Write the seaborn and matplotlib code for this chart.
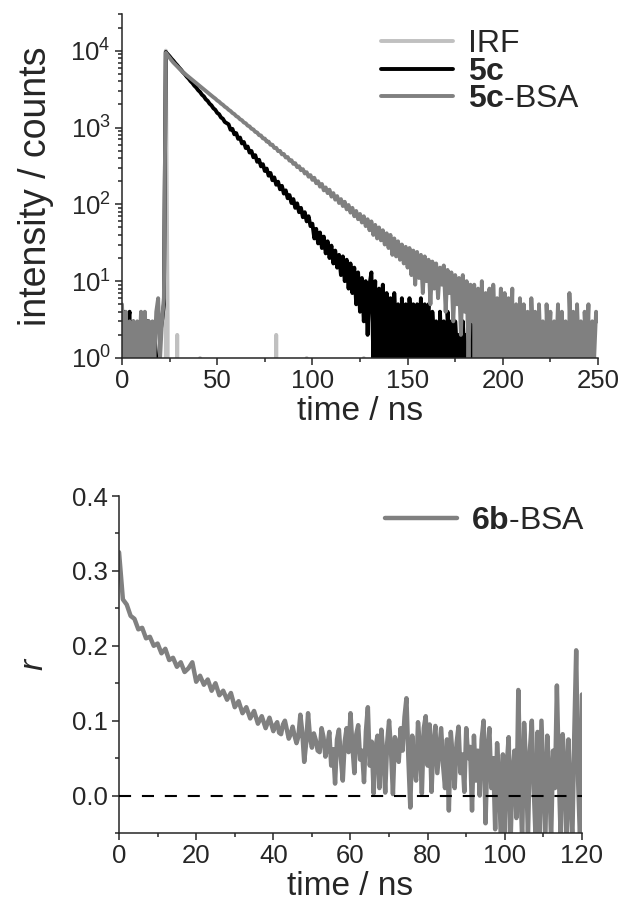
import numpy as np
import matplotlib
matplotlib.use('Agg')
import matplotlib.pyplot as plt
import seaborn as sns
from matplotlib.ticker import MultipleLocator, LogLocator, NullFormatter, FormatStrFormatter

# ---- data ----
# fluorescence decays, 1 ns channels 0..250 ns
decay_time = np.arange(0, 251)

irf_time = [21, 22, 23, 24, 25, 28, 29, 30, 40, 41, 42, 80, 81, 82, 96, 97, 98, 126, 127, 128]
irf_counts = [0, 0, 10000, 3, 0, 0, 2, 0, 0, 1, 0, 0, 2, 0, 0, 1, 0, 0, 1, 0]

c5_counts = (
    [2, 4, 1, 3, 4, 0, 3, 1, 0, 2, 1, 2, 0, 3, 3, 1, 0, 2, 1, 0, 2, 3, 5]
    + [9600, 9000, 8450, 7860, 7390, 6870, 6460, 6010, 5650, 5250, 4950, 4590, 4330, 4010,
       3790, 3500, 3310, 3060, 2900, 2670, 2540, 2330, 2220, 2040, 1940, 1780, 1700, 1550]
    + [1490, 1350, 1300, 1180, 1140]
    + [1100, 935, 960, 815, 845, 712, 740, 620, 648, 540, 566, 472, 495, 410, 436, 358,
       380, 312, 333, 272, 292, 236, 256, 206, 224, 180, 197, 157, 174, 138]
    + [152, 120, 132, 104, 117, 90, 103, 79, 90, 68, 79, 60, 70, 52, 56, 36, 48, 31, 43,
       27, 38, 23, 33, 20, 29, 17, 25, 15, 22, 12, 21, 10, 19, 8, 17, 7, 15, 5, 13, 4, 11,
       3, 10, 2, 9]
    + [13, 1, 10, 0, 8, 1, 9, 0, 7, 1, 6, 0, 7, 1, 5, 0, 6, 1, 5, 0, 6, 1, 5, 0, 5, 1, 6,
       0, 5, 1, 5, 0, 4, 1, 3, 0, 4, 1, 3, 0, 4, 1, 3, 0, 3, 1, 2, 0, 3, 1, 2, 0, 3, 1, 2,
       0, 2, 1, 3, 0, 2]
    + [0, 0, 2, 0, 0, 1, 0, 0, 0, 0, 2, 0, 0, 0, 2, 0, 0, 0, 0, 2, 0, 2]
    + [0] * 27 + [2] + [0] * 9
)

c5bsa_counts = (
    [5, 1, 4, 0, 3, 1, 3, 0, 3, 1, 4, 0, 4, 1, 3, 0, 3, 1, 4, 6, 1, 3, 6]
    + [9400, 8700, 8100, 7500, 7000, 6600, 6200, 5850, 5550, 5250]
    + [5010, 4780, 4560, 4360, 4150, 3970, 3780, 3610, 3450, 3280, 3140, 2990, 2860, 2720,
       2610, 2480, 2380, 2250, 2170, 2050, 1975, 1865, 1800, 1700, 1640, 1545, 1495, 1405,
       1362, 1280, 1243, 1163, 1134, 1058, 1034, 962, 944, 875, 861, 795, 786, 722, 717,
       656, 655, 596, 597, 542, 544, 492, 496, 447, 452, 407, 413, 370, 376, 336, 343, 305,
       313, 278, 287, 252, 262, 229, 240, 208]
    + [222, 188, 200, 170, 184, 152, 166, 140, 155, 126, 140, 115, 128, 104, 117, 95, 108,
       86, 98, 78, 90, 70, 82, 64, 75, 58, 70, 52, 64, 46, 60, 40, 54, 36, 50, 34, 46, 30,
       42, 27, 40, 22, 36, 21, 33, 19, 30, 17, 28, 15]
    + [27, 12, 25, 9, 24, 11, 22, 7, 21, 10, 19, 5, 18, 8, 17, 6, 15, 9, 16, 4, 14, 7, 13,
       3, 12, 5, 11, 2, 12, 4, 10, 1, 9]
    + [3, 9, 0, 8, 1, 10, 1, 7, 0, 8, 0, 9, 1, 6, 1, 8, 0, 7, 1, 6, 1, 8, 0, 5, 0, 6]
    + [0, 5, 1, 4, 0, 6, 1, 4, 0, 5, 1, 3, 0, 5, 1, 4, 0, 3, 1, 5, 0, 4, 1, 3, 0, 7, 1, 4,
       0, 5, 1, 3, 0, 4, 1, 5, 0, 3, 1, 4, 3]
)

# anisotropy: 1 ns steps 0..39 ns, then 0.5 ns steps 40..120 ns
aniso_time = np.concatenate([np.arange(0, 40, 1.0), np.arange(40, 120.25, 0.5)])
aniso_r = [
    0.325, 0.262, 0.255, 0.240, 0.236, 0.222, 0.224, 0.210, 0.212, 0.200,
    0.203, 0.190, 0.196, 0.181, 0.184, 0.172, 0.178, 0.165, 0.170, 0.178,
    0.152, 0.160, 0.148, 0.155, 0.140, 0.150, 0.134, 0.140, 0.128, 0.137,
    0.118, 0.126, 0.110, 0.118, 0.103, 0.113, 0.096, 0.106, 0.090, 0.104,
    # 40 ns onwards, 0.5 ns steps
    0.086, 0.094, 0.098, 0.084, 0.082, 0.095, 0.100, 0.088, 0.076, 0.082,
    0.092, 0.080, 0.070, 0.079, 0.108, 0.085, 0.045, 0.070, 0.110, 0.078,
    0.064, 0.083, 0.074, 0.060, 0.058, 0.090, 0.078, 0.052, 0.066, 0.085,
    0.040, 0.062, 0.016, 0.075, 0.088, 0.050, 0.020, 0.072, 0.090, 0.058,
    0.110, 0.066, 0.030, 0.082, 0.094, 0.048, 0.060, 0.018, 0.086, 0.118,
    0.040, 0.072, 0.003, 0.065, 0.080, 0.010, 0.088, 0.055, 0.004, 0.070,
    0.100, 0.060, 0.002, 0.078, 0.070, 0.045, 0.090, 0.060, 0.105, 0.130,
    0.050, -0.016, 0.080, 0.040, 0.020, 0.098, 0.065, 0.003, 0.090, 0.106,
    0.040, 0.095, 0.005, 0.070, 0.093, 0.030, 0.060, 0.090, 0.040, 0.010,
    0.075, -0.020, 0.085, 0.050, 0.010, 0.070, 0.092, 0.030, 0.055, 0.005,
    0.090, 0.050, 0.065, -0.020, 0.080, 0.020, 0.060, 0.000, 0.075, 0.100,
    -0.037, 0.060, 0.090, 0.010, 0.050, -0.045, 0.070, 0.020, -0.060, 0.055,
    -0.060, 0.040, 0.078, -0.060, 0.030, 0.060, -0.030, 0.141, 0.020, -0.060,
    0.097, 0.040, -0.055, 0.060, 0.100, 0.010, -0.060, 0.085, -0.060, 0.100,
    0.020, -0.060, 0.080, 0.030, -0.060, 0.060, 0.010, 0.147, 0.030, -0.060,
    0.082, 0.040, -0.060, 0.075, 0.000, -0.060, 0.080, 0.194, 0.020, -0.060,
    0.135,
]

assert len(c5_counts) == len(decay_time) and len(c5bsa_counts) == len(decay_time)
assert len(aniso_r) == len(aniso_time)

# ---- style ----
sns.set_style('ticks')
plt.rcParams['font.family'] = ['Liberation Sans', 'DejaVu Sans']
plt.rcParams['mathtext.fontset'] = 'custom'
plt.rcParams['mathtext.rm'] = 'Liberation Sans'
plt.rcParams['mathtext.it'] = 'Liberation Sans:italic'
plt.rcParams['mathtext.bf'] = 'Liberation Sans:bold'
plt.rcParams['axes.linewidth'] = 1.1

fig = plt.figure(figsize=(6.18, 9.10), dpi=100)
ax1 = fig.add_axes([0.1974, 0.6066, 0.7702, 0.378])
ax2 = fig.add_axes([0.1926, 0.0846, 0.7491, 0.3703])

# top: decays
lw_top = 2.8
sns.lineplot(x=irf_time, y=irf_counts, ax=ax1, color='#c0c0c0', lw=lw_top,
             estimator=None, label='IRF')
sns.lineplot(x=decay_time, y=c5_counts, ax=ax1, color='black', lw=lw_top,
             estimator=None, label='$\\mathbf{5c}$')
sns.lineplot(x=decay_time, y=c5bsa_counts, ax=ax1, color='#808080', lw=lw_top,
             estimator=None, label='$\\mathbf{5c}$-BSA')
ax1.set_yscale('log')
ax1.set_xlim(0, 250)
ax1.set_ylim(1, 3e4)
ax1.xaxis.set_major_locator(MultipleLocator(50))
ax1.xaxis.set_minor_locator(MultipleLocator(25))
ax1.yaxis.set_major_locator(LogLocator(base=10, numticks=10))
ax1.yaxis.set_minor_locator(LogLocator(base=10, subs=np.arange(2, 10), numticks=20))
ax1.yaxis.set_minor_formatter(NullFormatter())
ax1.set_xlabel('time / ns', fontsize=24, labelpad=2)
ax1.set_ylabel('intensity / counts', fontsize=27, labelpad=12)
ax1.legend(frameon=False, loc='upper left', bbox_to_anchor=(0.545, 0.955),
           fontsize=23, handlelength=2.25, handletextpad=0.45, labelspacing=-0.08,
           borderpad=0, borderaxespad=0)

# bottom: anisotropy
sns.lineplot(x=aniso_time, y=aniso_r, ax=ax2, color='#808080', lw=3.2,
             estimator=None, label='$\\mathbf{6b}$-BSA')
ax2.axhline(0, color='black', lw=1.5, ls=(0, (5.8, 5.2)), zorder=5)
ax2.set_xlim(0, 120)
ax2.set_ylim(-0.05, 0.4)
ax2.xaxis.set_major_locator(MultipleLocator(20))
ax2.xaxis.set_minor_locator(MultipleLocator(10))
ax2.yaxis.set_major_locator(MultipleLocator(0.1))
ax2.yaxis.set_minor_locator(MultipleLocator(0.05))
ax2.yaxis.set_major_formatter(FormatStrFormatter('%.1f'))
ax2.set_xlabel('time / ns', fontsize=24, labelpad=2)
ax2.set_ylabel('r', fontsize=24, fontstyle='italic', labelpad=16)
ax2.legend(frameon=False, loc='upper left', bbox_to_anchor=(0.575, 0.97),
           fontsize=23, handlelength=2.25, handletextpad=0.45,
           borderpad=0, borderaxespad=0)

for ax in (ax1, ax2):
    sns.despine(ax=ax)
    ax.tick_params(which='major', direction='out', length=5, width=1.1, labelsize=18.5, pad=3)
    ax.tick_params(which='minor', direction='out', length=3, width=1.1)

fig.savefig('out.png', dpi=100)
